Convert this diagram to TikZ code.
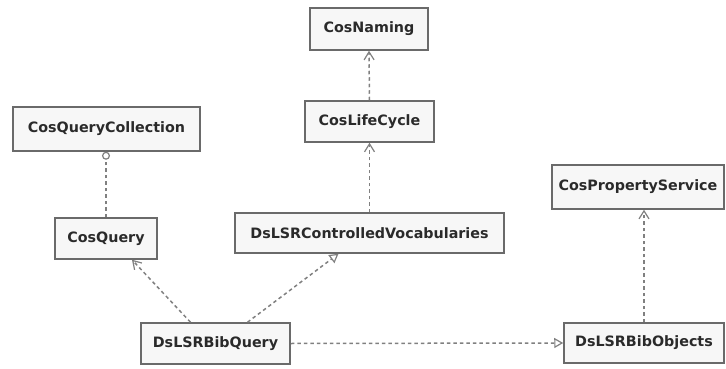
\documentclass[tikz,border=0pt]{standalone}
\usepackage{fontspec}
\setmainfont{DejaVu Sans}
\usetikzlibrary{arrows.meta,calc}
\definecolor{boxfill}{HTML}{F7F7F7}
\definecolor{boxline}{HTML}{6A6A6A}
\definecolor{linkline}{HTML}{808080}
\definecolor{txt}{HTML}{2A2A2A}
\tikzset{
  cls/.style={draw=boxline, line width=1.5pt, fill=boxfill, inner sep=0pt,
    font=\fontsize{14.3}{16}\selectfont\bfseries, text=txt},
  dep/.style={draw=linkline, line width=1.5pt, dash pattern=on 3.5pt off 3pt,
    -{Straight Barb[open,length=8pt,width=10pt,line width=1.2pt]}},
  real/.style={draw=linkline, line width=1.5pt, dash pattern=on 3.5pt off 3pt,
    -{Triangle[open,length=9pt,width=10pt,line width=1.2pt]}},
  lolly/.style={draw=linkline, line width=1.5pt, dash pattern=on 3.5pt off 3pt,
    -{Circle[open,length=8pt,line width=1.2pt]}}
}
\begin{document}
\begin{tikzpicture}[x=1pt,y=-1pt]
\useasboundingbox (0,0) rectangle (726,369);
\node[cls, minimum width=118pt, minimum height=42pt] (nam) at (369,29) {CosNaming};
\node[cls, minimum width=129pt, minimum height=41pt] (life) at (369.5,121.5) {CosLifeCycle};
\node[cls, minimum width=269pt, minimum height=40pt] (vocab) at (369.5,233) {DsLSRControlledVocabularies};
\node[cls, minimum width=187pt, minimum height=44pt] (qcol) at (106.5,129) {CosQueryCollection};
\node[cls, minimum width=102pt, minimum height=41pt] (query) at (106,238.5) {CosQuery};
\node[cls, minimum width=172pt, minimum height=44pt] (prop) at (638,187) {CosPropertyService};
\node[cls, minimum width=160pt, minimum height=40pt] (bobj) at (644,343) {DsLSRBibObjects};
\node[cls, minimum width=149pt, minimum height=41pt] (bq) at (215.5,343.5) {DsLSRBibQuery};

\draw[dep] (life.north) -- (nam.south);
\draw[dep] (vocab.north) -- (life.south);
\draw[lolly] (query.north) -- (query.north |- qcol.south);
\draw[dep] ([xshift=-25pt]bq.north) -- ([xshift=26pt]query.south);
\draw[real] ([xshift=32pt]bq.north) -- ([xshift=-31pt]vocab.south);
\draw[real] (bq.east) -- (bobj.west);
\draw[dep] (bobj.north) -- (bobj.north |- prop.south);
\end{tikzpicture}
\end{document}
